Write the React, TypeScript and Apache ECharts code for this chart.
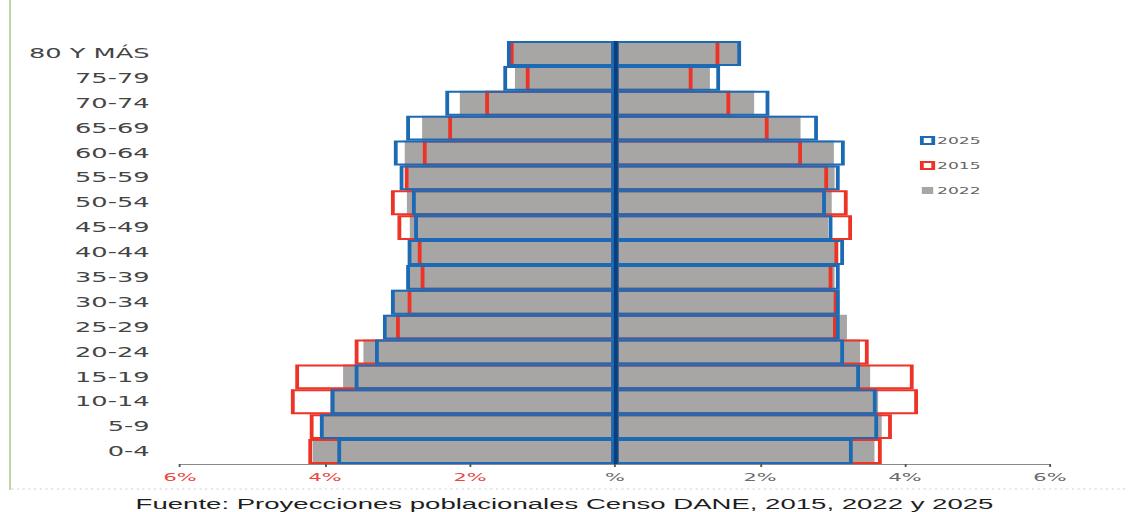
import React, { useEffect, useRef } from "react";
import * as echarts from "echarts";

// Age groups, bottom to top
const categories = [
  "0-4", "5-9", "10-14", "15-19", "20-24", "25-29", "30-34", "35-39", "40-44",
  "45-49", "50-54", "55-59", "60-64", "65-69", "70-74", "75-79", "80 Y MÁS",
];

// Men (left side, %)
const men2022 = [4.17, 4.07, 3.93, 3.75, 3.47, 3.15, 3.05, 2.85, 2.85, 2.83, 2.87, 2.87, 2.9, 2.66, 2.14, 1.38, 1.42];
const men2015 = [4.23, 4.21, 4.47, 4.41, 3.59, 3.02, 2.86, 2.68, 2.72, 3.0, 3.09, 2.9, 2.65, 2.3, 1.79, 1.23, 1.45];
const men2025 = [3.83, 4.07, 3.92, 3.59, 3.31, 3.2, 3.09, 2.88, 2.86, 2.77, 2.8, 2.97, 3.05, 2.88, 2.34, 1.54, 1.49];

// Women (right side, %)
const women2022 = [3.58, 3.68, 3.63, 3.52, 3.38, 3.2, 3.1, 3.03, 3.06, 2.94, 2.99, 3.03, 3.02, 2.56, 1.92, 1.31, 1.7];
const women2015 = [3.68, 3.82, 4.18, 4.12, 3.5, 3.06, 3.07, 3.0, 3.08, 3.27, 3.21, 2.94, 2.58, 2.12, 1.59, 1.07, 1.44];
const women2025 = [3.28, 3.63, 3.61, 3.38, 3.16, 3.1, 3.1, 3.1, 3.16, 3.0, 2.91, 3.1, 3.17, 2.8, 2.13, 1.45, 1.74];

const legendNames = ["2025", "2015", "2022"];
const xMin = -6;
const xMax = 6;
const xInterval = 2;
const sourceText = "Fuente: Proyecciones poblacionales Censo DANE, 2015, 2022 y 2025";

const W = 594;
const H = 512;
const S = 1129 / W;

const GRAY = "#a8a6a4";
const RED = "#ec3326";
const BLUE = "#1c69b4";

export default function App() {
  const ref = useRef<HTMLDivElement>(null);

  useEffect(() => {
    if (!ref.current) return;
    const chart = echarts.init(ref.current, null, { renderer: "svg" });

    const bar = (name: string, data: number[], sign: number, itemStyle: any, extra: any = {}) => ({
      type: "bar",
      name,
      data: data.map((v) => sign * v),
      barGap: "-100%",
      barCategoryGap: "0%",
      itemStyle,
      emphasis: { disabled: true },
      silent: true,
      ...extra,
    });

    const grayStyle = { color: GRAY };
    const redStyle = { color: "rgba(255,255,255,0)", borderColor: RED, borderWidth: 2 };
    const blueStyle = { color: "rgba(255,255,255,0)", borderColor: BLUE, borderWidth: 2 };

    chart.setOption({
      animation: false,
      backgroundColor: "#ffffff",
      title: {
        text: sourceText,
        left: "center",
        top: 492,
        textStyle: {
          fontFamily: "Liberation Sans",
          fontSize: 14.5,
          fontWeight: "normal",
          color: "#1e1e1e",
        },
      },
      legend: {
        data: legendNames,
        orient: "vertical",
        left: 479,
        top: 131,
        itemWidth: 6,
        itemHeight: 7,
        itemGap: 16,
        icon: "rect",
        textStyle: { fontFamily: "DejaVu Sans", fontSize: 9, color: "#666666", padding: [0, 0, 0, -3] },
      },
      grid: { left: 94.7, right: 41.6, top: 41, bottom: 48, containLabel: false },
      xAxis: {
        type: "value",
        min: xMin,
        max: xMax,
        interval: xInterval,
        splitLine: { show: false },
        axisLine: { show: true, lineStyle: { color: "#8a8a8a", width: 1 } },
        axisTick: { show: true, length: 3, lineStyle: { color: "#555555" } },
        axisLabel: {
          margin: 8,
          fontFamily: "DejaVu Sans",
          fontSize: 11,
          formatter: (v: number) => (v === 0 ? "%" : Math.abs(v) + "%"),
          color: (v: any) => (Number(v) < 0 ? "#e8463e" : "#6a6a6a"),
        },
      },
      yAxis: {
        type: "category",
        data: categories,
        axisLine: { show: false },
        axisTick: { show: false },
        axisLabel: {
          margin: 16,
          fontFamily: "DejaVu Sans",
          fontSize: 13.5,
          color: "#454545",
        },
      },
      graphic: [
        {
          type: "line",
          shape: { x1: 5.3, y1: 0, x2: 5.3, y2: 490 },
          style: { stroke: "#b9d6a0", lineWidth: 1 },
          silent: true,
        },
        {
          type: "line",
          shape: { x1: 6, y1: 489, x2: W, y2: 489 },
          style: { stroke: "#cccccc", lineWidth: 1, lineDash: [1, 2] },
          silent: true,
        },
      ],
      series: [
        bar("2022", men2022, -1, grayStyle),
        bar("2022", women2022, 1, grayStyle),
        bar("2015", men2015, -1, redStyle),
        bar("2015", women2015, 1, redStyle),
        bar("2025", men2025, -1, blueStyle),
        bar("2025", women2025, 1, blueStyle, {
          markLine: {
            silent: true,
            symbol: "none",
            label: { show: false },
            lineStyle: { color: "#0a3f7a", width: 2, type: "solid" },
            data: [{ xAxis: 0 }],
          },
        }),
      ],
    });

    return () => chart.dispose();
  }, []);

  return (
    <div
      style={{
        position: "fixed",
        left: 0,
        top: 0,
        width: 1129,
        height: H,
        overflow: "hidden",
        background: "#ffffff",
      }}
    >
      <div
        ref={ref}
        style={{ width: W, height: H, transform: `scaleX(${S})`, transformOrigin: "0 0" }}
      />
    </div>
  );
}
